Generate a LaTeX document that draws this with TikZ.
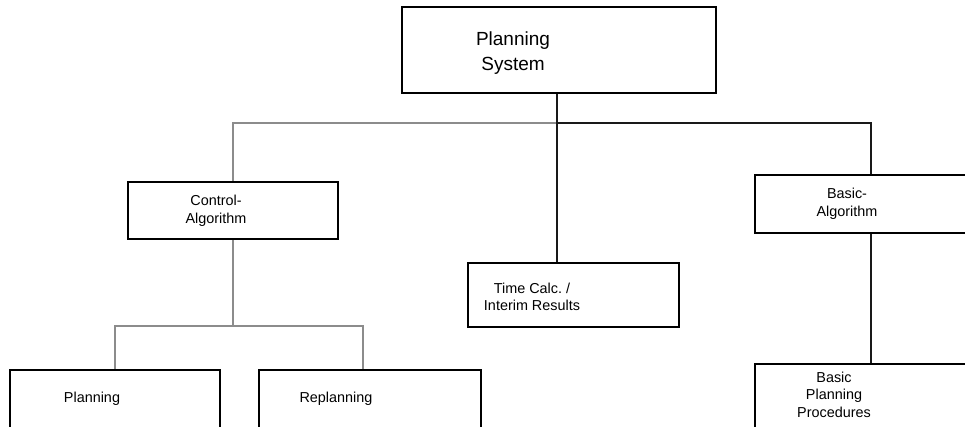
\documentclass[tikz,border=0pt]{standalone}
\usepackage{fontspec}
\setmainfont{Liberation Sans}
\begin{document}
\begin{tikzpicture}[x = 1pt, y = -1pt]
	\def\frm{node [draw, line width = 2.2pt, inner sep = 0]}
	\def\txt{node [align = center, font = \fontsize{14.4}{17.6}\selectfont]}
	\tikzset{dark/.style = {draw = black!90, line width = 2.3pt}, light/.style = {draw = black!45, line width = 2.3pt}}
	\useasboundingbox (0, 0) rectangle (965, 426);
	\clip (0, 0) rectangle (965, 426);

	\path (559, 50) \frm [minimum width = 314, minimum height = 86] (sys) {};
	\path (233, 210.5) \frm [minimum width = 210, minimum height = 57] (ctrl) {};
	\path (573.5, 295) \frm [minimum width = 211, minimum height = 64] (time) {};
	\path (871, 204) \frm [minimum width = 232, minimum height = 58] (basic) {};
	\path (115, 420) \frm [minimum width = 210, minimum height = 100] (plan) {};
	\path (370, 420) \frm [minimum width = 222, minimum height = 100] (replan) {};
	\path (871, 414) \frm [minimum width = 232, minimum height = 100] (bpp) {};

	\path (513, 53) node [align = center, font = \fontsize{19}{25.7}\selectfont] (sys-t) {Planning\\System};
	\path (216, 210.5) \txt (ctrl-t) {Control-\\Algorithm};
	\path (532, 297) \txt (time-t) {Time Calc.\ /\\Interim Results};
	\path (847, 204) \txt (basic-t) {Basic-\\Algorithm};
	\path (834, 394.5) \txt (bpp-t) {Basic\\Planning\\Procedures};
	\path (92, 399) \txt (plan-t) {Planning};
	\path (336, 399) \txt (replan-t) {Replanning};

	\coordinate (top) at (557, 123);
	\coordinate (low) at (233, 326);
	\draw [light] (top) -| (ctrl.north);
	\draw [light] (ctrl.south) -- (low);
	\draw [light] (plan.north) |- (low) -| ([xshift = -7pt] replan.north);
	\draw [dark] (top |- sys.south) -- (top |- time.north);
	\draw [dark] (top) -| (basic.north);
	\draw [dark] (basic.south) -- (bpp.north);
\end{tikzpicture}
\end{document}
